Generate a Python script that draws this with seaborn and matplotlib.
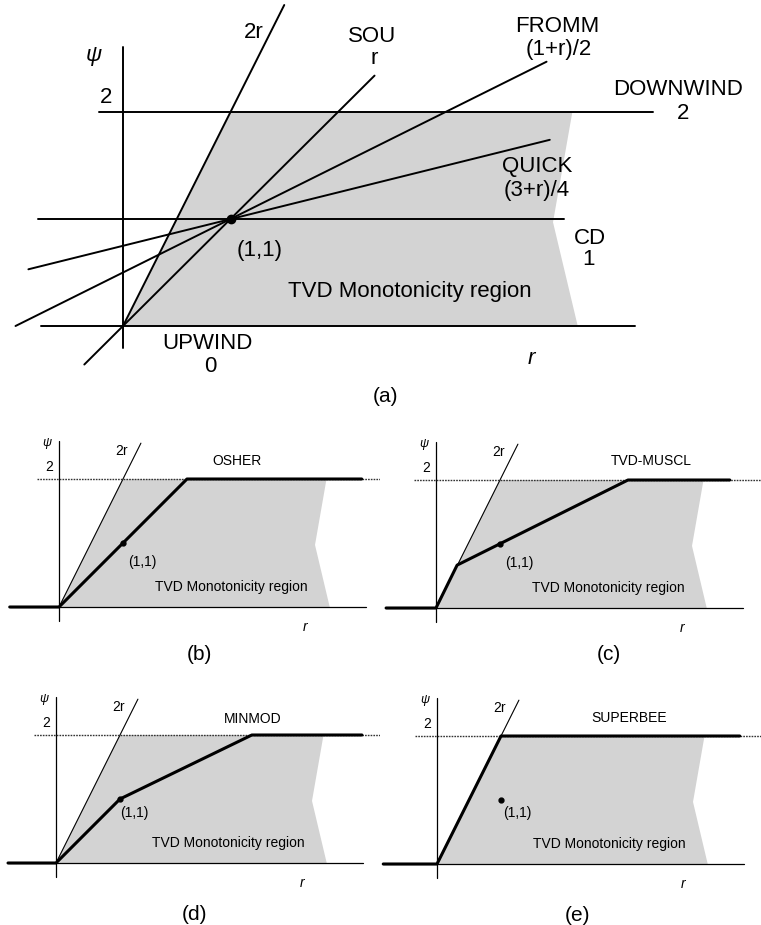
import matplotlib.pyplot as plt
import numpy as np
import pandas as pd
import seaborn as sns

# ---- panel (a): scheme lines, each given by its two end points (r, psi)
schemes = ['2r', 'SOU', 'FROMM', 'QUICK', 'CD', 'DOWNWIND', 'UPWIND']
r_start = [0.0, -0.36, -1.0, -0.88, -0.79, -0.22, -0.76]
r_end = [1.5, 2.34, 3.94, 3.97, 4.10, 4.93, 4.76]
psi_start = [0.0, -0.36, 0.0, 0.53, 1.0, 2.0, 0.0]
psi_end = [3.0, 2.34, 2.47, 1.74, 1.0, 2.0, 0.0]

# TVD monotonicity region outline
region_r = [0.0, 1.0, 4.18, 4.0, 4.23]
region_psi = [0.0, 2.0, 2.0, 0.97, 0.0]

# ---- panels (b)-(e): limiter curves
limiter_names = ['OSHER', 'TVD-MUSCL', 'MINMOD', 'SUPERBEE']
osher_r = [-0.77, 0.0, 2.0, 4.73]
osher_psi = [0.0, 0.0, 2.0, 2.0]
muscl_r = [-0.78, 0.0, 0.33, 3.0, 4.59]
muscl_psi = [0.0, 0.0, 0.67, 2.0, 2.0]
minmod_r = [-0.75, 0.0, 1.0, 3.06, 4.78]
minmod_psi = [0.0, 0.0, 1.0, 2.0, 2.0]
superbee_r = [-0.84, 0.0, 1.0, 4.73]
superbee_psi = [0.0, 0.0, 2.0, 2.0]
limiter_r = [osher_r, muscl_r, minmod_r, superbee_r]
limiter_psi = [osher_psi, muscl_psi, minmod_psi, superbee_psi]
panel_letters = ['(b)', '(c)', '(d)', '(e)']

sns.set_theme(style='white')
plt.rcParams['font.family'] = ['Liberation Sans', 'DejaVu Sans']
plt.rcParams['text.color'] = 'black'

GREY = '#d3d3d3'
W, H = 761, 925
fig = plt.figure(figsize=(W / 100, H / 100), dpi=100)


def make_axes(box, origin, scale):
    # box and origin in pixels (top-left based), scale in px per unit
    x0, y0, w, h = box
    ax = fig.add_axes([x0 / W, 1 - (y0 + h) / H, w / W, h / H])
    ax.set_xlim((x0 - origin[0]) / scale[0], (x0 + w - origin[0]) / scale[0])
    ax.set_ylim((origin[1] - y0 - h) / scale[1], (origin[1] - y0) / scale[1])
    ax.axis('off')
    return ax


# ---------------- panel (a)
ax = make_axes((0, 0, 761, 470), (123, 326), (107.5, 107))
ax.fill(region_r, region_psi, color=GREY, lw=0, zorder=0)
ax.plot([0, 0], [-0.21, 2.61], color='black', lw=1.4)

lines = pd.DataFrame({
    'scheme': schemes * 2,
    'r': r_start + r_end,
    'psi': psi_start + psi_end,
})
sns.lineplot(data=lines, x='r', y='psi', units='scheme', estimator=None,
             sort=False, color='black', lw=1.4, ax=ax, legend=False)
ax.plot([1], [1], 'o', color='black', ms=6)
ax.set_xlim(-123 / 107.5, 638 / 107.5)
ax.set_ylim(-144 / 107, 326 / 107)
ax.set_xlabel('')
ax.set_ylabel('')

fs = 16
labels_a = [
    ('\u03c8', -0.27, 2.53, 'italic'),
    ('2', -0.16, 2.14, 'normal'),
    ('2r', 1.22, 2.74, 'normal'),
    ('SOU', 2.32, 2.71, 'normal'),
    ('r', 2.34, 2.50, 'normal'),
    ('FROMM', 4.04, 2.80, 'normal'),
    ('(1+r)/2', 4.05, 2.58, 'normal'),
    ('DOWNWIND', 5.16, 2.21, 'normal'),
    ('2', 5.21, 1.99, 'normal'),
    ('QUICK', 3.85, 1.49, 'normal'),
    ('(3+r)/4', 3.85, 1.27, 'normal'),
    ('CD', 4.34, 0.82, 'normal'),
    ('1', 4.33, 0.62, 'normal'),
    ('(1,1)', 1.27, 0.71, 'normal'),
    ('TVD Monotonicity region', 2.67, 0.32, 'normal'),
    ('UPWIND', 0.79, -0.16, 'normal'),
    ('0', 0.81, -0.38, 'normal'),
    ('r', 3.80, -0.30, 'italic'),
]
for txt, x, y, st in labels_a:
    ax.text(x, y, txt, ha='center', va='center', fontsize=fs, style=st)
ax.text(2.44, -0.66, '(a)', ha='center', va='center', fontsize=15)

# ---------------- panels (b)-(e)
boxes = [(0, 435, 380, 255), (380, 435, 381, 255),
         (0, 690, 380, 235), (380, 690, 381, 235)]
origins = [(59, 607), (436, 608), (56, 863), (437, 864)]
name_x = [2.78, 3.37, 3.08, 3.0]
name_y = [2.28, 2.30, 2.25, 2.28]
dot_label = [(1.3, 0.70), (1.3, 0.71), (1.23, 0.78), (1.25, 0.80)]
letter_pos = [(2.19, -0.75), (2.7, -0.72), (2.17, -0.81), (2.2, -0.80)]

for i in range(4):
    ax = make_axes(boxes[i], origins[i], (64, 64))
    ax.fill(region_r, region_psi, color=GREY, lw=0, zorder=0)
    # axes and guides
    ax.plot([0, 0], [-0.22, 2.6], color='black', lw=0.9)
    ax.plot([limiter_r[i][0], 4.8], [0, 0], color='black', lw=0.9)
    ax.plot([0, 1.28], [0, 2.56], color='black', lw=0.8)
    ax.plot([-0.35, 5.3], [2, 2], color='#333333', lw=1.0,
            linestyle=(0, (1.2, 0.8)))
    sns.lineplot(x=limiter_r[i], y=limiter_psi[i], sort=False, estimator=None,
                 color='black', lw=2.2, ax=ax)
    ax.plot([1], [1], 'o', color='black', ms=3.5)
    ax.set_xlabel('')
    ax.set_ylabel('')

    ax.text(-0.19, 2.56, '\u03c8', ha='center', va='center', fontsize=9,
            style='italic')
    ax.text(-0.16, 2.18, '2', ha='center', va='center', fontsize=10)
    ax.text(0.97, 2.43, '2r', ha='center', va='center', fontsize=10)
    ax.text(name_x[i], name_y[i], limiter_names[i], ha='center', va='center',
            fontsize=10)
    ax.text(dot_label[i][0], dot_label[i][1], '(1,1)', ha='center',
            va='center', fontsize=10)
    ax.text(2.7, 0.31, 'TVD Monotonicity region', ha='center', va='center',
            fontsize=10)
    ax.text(3.84, -0.31, 'r', ha='center', va='center', fontsize=10,
            style='italic')
    ax.text(letter_pos[i][0], letter_pos[i][1], panel_letters[i], ha='center',
            va='center', fontsize=15)

fig.savefig('out.png', dpi=100)
plt.close(fig)
